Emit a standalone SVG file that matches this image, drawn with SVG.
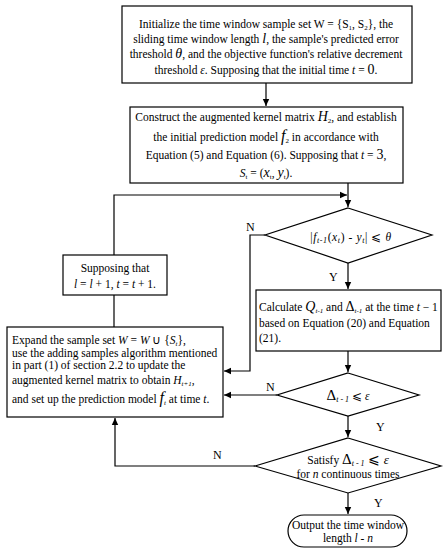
<svg xmlns="http://www.w3.org/2000/svg" width="446" height="550" viewBox="0 0 446 550">
<defs>
<marker id="ah" markerWidth="8" markerHeight="8" refX="7" refY="4" orient="auto" markerUnits="userSpaceOnUse">
<path d="M0,0.8 L7,4 L0,7.2 Z" fill="#000"/>
</marker>
<style>
.box{fill:#fff;stroke:#000;stroke-width:1.2}
.ln{fill:none;stroke:#000;stroke-width:1.2}
text{font-family:"Liberation Serif","Times New Roman",serif;font-size:11.5px;fill:#000}
.c{text-anchor:middle}
.i{font-style:italic}
.s{font-size:7px}
.lbl{font-size:12px}
</style>
</defs>
<rect width="446" height="550" fill="#fff"/>
<g id="connectors">
<path class="ln" d="M266,83 V106" marker-end="url(#ah)"/>
<path class="ln" d="M348,183 V207" marker-end="url(#ah)"/>
<path class="ln" d="M114,255 V195 H347" marker-end="url(#ah)"/>
<path class="ln" d="M348,263 V289" marker-end="url(#ah)"/>
<path class="ln" d="M265,235 H250 V371 H224" marker-end="url(#ah)"/>
<path class="ln" d="M348,351 V372" marker-end="url(#ah)"/>
<path class="ln" d="M277,395 H224" marker-end="url(#ah)"/>
<path class="ln" d="M348,416 V437" marker-end="url(#ah)"/>
<path class="ln" d="M255,466 H115 V418" marker-end="url(#ah)"/>
<path class="ln" d="M348,493 V514" marker-end="url(#ah)"/>
<path class="ln" d="M114,295 V327"/>
<text class="lbl" x="246" y="231">N</text>
<text class="lbl" x="329" y="281">Y</text>
<text class="lbl" x="266" y="391">N</text>
<text class="lbl" x="376" y="431">Y</text>
<text class="lbl" x="213" y="459">N</text>
<text class="lbl" x="374" y="507">Y</text>
</g>
<g id="init">
<rect class="box" x="122" y="6" width="290" height="77"/>
<text class="c" x="266" y="28">Initialize the time window sample set W = {S<tspan class="s" dy="2">1</tspan><tspan dy="-2">, S</tspan><tspan class="s" dy="2">2</tspan><tspan dy="-2">}, the</tspan></text>
<text class="c" x="266" y="43">sliding time window length <tspan class="i" font-size="14">l</tspan>, the sample's predicted error</text>
<text class="c" x="266" y="58">threshold <tspan class="i" font-size="14">θ</tspan>, and  the objective function's relative decrement</text>
<text class="c" x="266" y="74">threshold <tspan class="i">ε</tspan>. Supposing that the initial time  <tspan class="i">t</tspan> = <tspan font-size="14">0</tspan>.</text>
</g>
<g id="construct">
<rect class="box" x="130" y="107" width="273" height="76"/>
<text class="c" x="266" y="121">Construct the augmented kernel matrix <tspan class="i" font-size="14">H</tspan><tspan class="s" dy="2">2</tspan><tspan dy="-2">, and establish</tspan></text>
<text class="c" x="266" y="141">the initial prediction model <tspan class="i" font-size="16">f</tspan><tspan class="s" dy="2">2</tspan><tspan dy="-2"> in accordance with</tspan></text>
<text class="c" x="266" y="159">Equation (5) and Equation (6). Supposing that <tspan class="i">t</tspan> = <tspan font-size="14">3</tspan>,</text>
<text class="c" x="266" y="177"><tspan class="i">S</tspan><tspan class="s" dy="2">t</tspan><tspan dy="-2"> = (</tspan><tspan class="i" font-size="14">x</tspan><tspan class="s" dy="2">t</tspan><tspan dy="-2">, </tspan><tspan class="i" font-size="14">y</tspan><tspan class="s" dy="2">t</tspan><tspan dy="-2">).</tspan></text>
</g>
<g id="decision1">
<polygon class="box" points="348,208 432,235 348,263 265,235"/>
<text class="c" x="351" y="241" font-size="18" letter-spacing="0.6">|<tspan class="i">f</tspan><tspan class="i" font-size="8" dy="2">t-1</tspan><tspan dy="-2">(</tspan><tspan class="i">x</tspan><tspan class="i" font-size="8" dy="2">t</tspan><tspan dy="-2">)  -  </tspan><tspan class="i">y</tspan><tspan class="i" font-size="8" dy="2">t</tspan><tspan dy="-2">| ⩽ </tspan><tspan class="i">θ</tspan></text>
</g>
<g id="calculate">
<rect class="box" x="256" y="290" width="185" height="61"/>
<text x="259" y="311">Calculate <tspan class="i" font-size="14">Q</tspan><tspan class="s i" dy="2">t-1</tspan><tspan dy="-2"> and </tspan><tspan font-size="14">Δ</tspan><tspan class="s i" dy="2">t-1</tspan><tspan dy="-2"> at the time </tspan><tspan class="i">t</tspan> − 1</text>
<text x="259" y="327">based on Equation (20) and Equation</text>
<text x="259" y="342">(21).</text>
</g>
<g id="suppose">
<rect class="box" x="63" y="255" width="104" height="40"/>
<text class="c" x="115" y="272">Supposing that</text>
<text class="c" x="115" y="288"><tspan class="i">l</tspan> = <tspan class="i">l</tspan> + 1, <tspan class="i">t</tspan> = <tspan class="i">t</tspan> + 1.</text>
</g>
<g id="expand">
<rect class="box" x="7" y="327" width="216" height="90"/>
<text x="12" y="344">Expand the sample set <tspan class="i">W</tspan> = <tspan class="i">W</tspan> ∪ {<tspan class="i">S</tspan><tspan class="s i" dy="2">t</tspan><tspan dy="-2">},</tspan></text>
<text x="12" y="357">use the adding samples algorithm mentioned</text>
<text x="12" y="369">in part (1) of section 2.2 to update the</text>
<text x="12" y="384">augmented kernel matrix to obtain <tspan class="i">H</tspan><tspan class="s i" dy="2">t+1</tspan><tspan dy="-2">,</tspan></text>
<text x="12" y="403">and set up the prediction  model <tspan class="i" font-size="16">f</tspan><tspan class="s i" dy="2">t</tspan><tspan dy="-2"> at time </tspan><tspan class="i">t</tspan>.</text>
</g>
<g id="decision2">
<polygon class="box" points="348,373 419,395 348,416 277,395"/>
<text class="c" x="348" y="400" font-size="14"><tspan font-size="15">Δ</tspan><tspan class="i" font-size="8" dy="2">t - 1</tspan><tspan dy="-2"> ⩽ </tspan><tspan class="i">ε</tspan></text>
</g>
<g id="decision3">
<polygon class="box" points="348,438 441,466 348,493 255,466"/>
<text class="c" x="348" y="464">Satisfy <tspan font-size="15">Δ</tspan><tspan class="i" font-size="8" dy="2">t - 1</tspan><tspan dy="-2" font-size="14"> ⩽ </tspan><tspan class="i" font-size="13">ε</tspan></text>
<text class="c" x="348" y="478">for <tspan class="i">n</tspan> continuous times</text>
</g>
<g id="output">
<rect class="box" x="288" y="515" width="119" height="32" rx="16" ry="16"/>
<text class="c" x="348" y="529">Output the time window</text>
<text class="c" x="348" y="542">length <tspan class="i">l</tspan> - <tspan class="i">n</tspan></text>
</g>
</svg>
